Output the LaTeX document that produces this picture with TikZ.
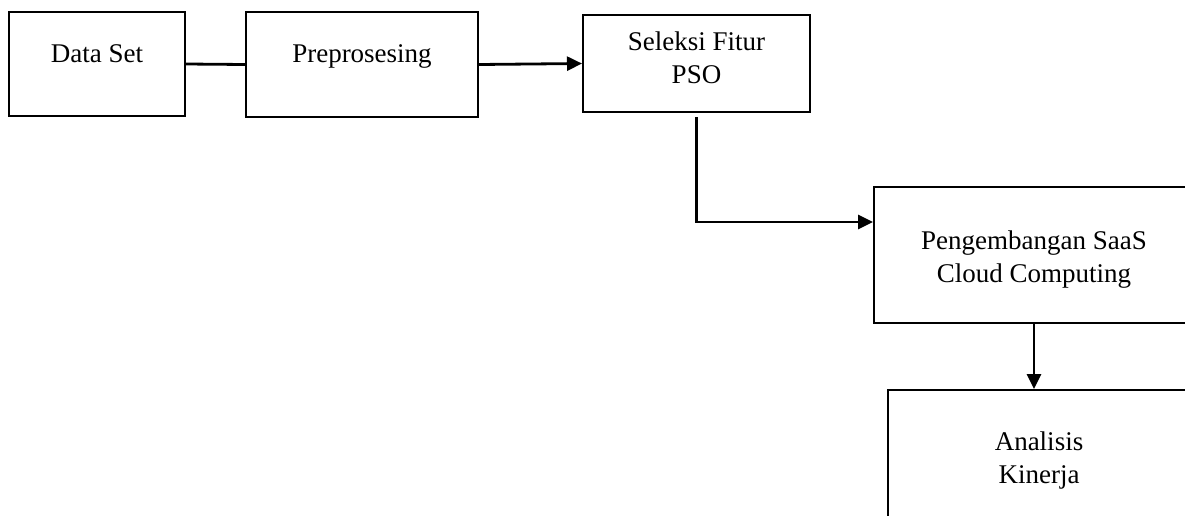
\documentclass[tikz,border=0pt]{standalone}
\usepackage{fontspec}
\setmainfont{Liberation Serif}
\usetikzlibrary{arrows.meta}
\begin{document}
\begin{tikzpicture}[x=0.5pt, y=-0.5pt,
    box/.style={draw, line width=1pt, align=center, inner sep=0pt,
      font=\fontsize{13.5pt}{16.5pt}\selectfont},
    link/.style={line width=1.4pt},
    arrow/.style={link, -{Triangle[length=7.5pt, width=7pt]}}]
  \useasboundingbox (0,0) rectangle (1185,515);
  \node[box, text height=0pt, text depth=2pt, minimum width=88pt, minimum height=52pt] (dataset) at (97,64) {Data Set};
  \node[box, text height=0pt, text depth=2.5pt, minimum width=116pt, minimum height=52.5pt] (prepro) at (362,64.5) {Preprosesing};
  \node[box, text height=19.5pt, text depth=0pt, minimum width=113.5pt, minimum height=48.5pt] (seleksi) at (696.5,63.5) {Seleksi Fitur\\PSO};
  \node[box, text height=27pt, text depth=0pt, minimum width=160pt, minimum height=68pt] (saas) at (1034,255) {Pengembangan SaaS\\Cloud Computing};
  \node[box, text height=28pt, text depth=0pt, minimum width=151pt, minimum height=65pt] (analisis) at (1039,455) {Analisis\\Kinerja};
  \draw[link] (dataset.east) -- (prepro.west);
  \draw[arrow] (prepro.east) -- (seleksi.west);
  \draw[arrow] ([yshift=-2pt]seleksi.south) |- ([yshift=16.5pt]saas.west);
  \draw[arrow] (saas.south) -- (saas.south |- analisis.north);
\end{tikzpicture}
\end{document}
